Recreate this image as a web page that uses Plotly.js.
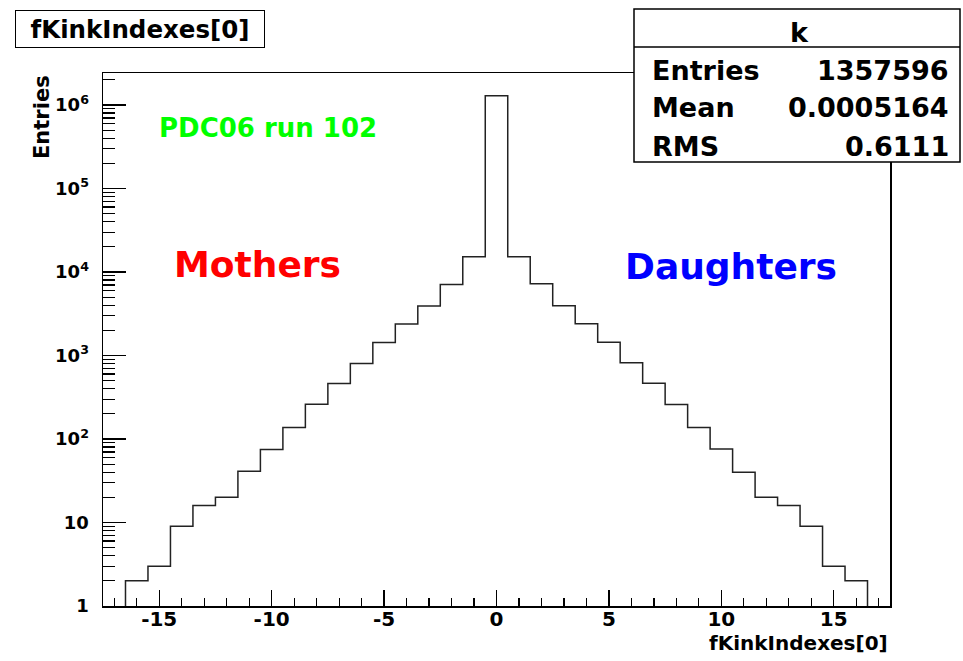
<!DOCTYPE html>
<html>
<head>
<meta charset="utf-8">
<script src="https://cdn.plot.ly/plotly-3.0.1.min.js"></script>
<style>
  html, body { margin: 0; padding: 0; background: #ffffff; }
  #plot { width: 963px; height: 661px; }
</style>
</head>
<body>
<div id="plot"></div>
<script>
// Bin centres of the fKinkIndexes[0] histogram (unit-wide bins)
var binCenters = [-16, -15, -14, -13, -12, -11, -10, -9, -8, -7, -6, -5, -4, -3, -2, -1,
                  0, 1, 2, 3, 4, 5, 6, 7, 8, 9, 10, 11, 12, 13, 14, 15, 16];
// Entries per bin
var binCounts = [2, 3, 9, 16, 20, 41, 75, 137, 261, 462, 803, 1433, 2375, 3902, 7100, 15200,
                 1293650, 15200, 7220, 3936, 2395, 1445, 816, 466, 259, 137, 76, 40, 20, 16, 9, 3, 2];

var xTickVals = [-15, -10, -5, 0, 5, 10, 15];
var xTickText = ['-15', '-10', '-5', '0', '5', '10', '15'];
var yTickVals = [1, 10, 100, 1000, 10000, 100000, 1000000];
var yTickText = ['1', '10', '10<sup>2</sup>', '10<sup>3</sup>', '10<sup>4</sup>', '10<sup>5</sup>', '10<sup>6</sup>'];

var statsTitle = 'k';
var statsNames = ['Entries', 'Mean', 'RMS'];
var statsValues = ['1357596', '0.0005164', '0.6111'];

// Step outline: left edges of every bin, closing edge, dropping to the axis floor at both ends
var binWidth = 1;
var floorValue = 1;
var stepX = [binCenters[0] - binWidth / 2];
var stepY = [floorValue];
binCenters.forEach(function (c, i) {
  stepX.push(c - binWidth / 2);
  stepY.push(binCounts[i]);
});
var lastEdge = binCenters[binCenters.length - 1] + binWidth / 2;
stepX.push(lastEdge);
stepY.push(binCounts[binCounts.length - 1]);
stepX.push(lastEdge);
stepY.push(floorValue);

var FONT = 'DejaVu Sans, Liberation Sans, Arial, sans-serif';

function bold(s) { return '<b>' + s + '</b>'; }

var trace = {
  type: 'scatter',
  mode: 'lines',
  x: stepX,
  y: stepY,
  line: { shape: 'hv', color: '#222222', width: 1.5 },
  hoverinfo: 'skip',
  showlegend: false
};

// page geometry, used to place the decorations in pixel terms
var M = { l: 103, r: 73, t: 73, b: 55 };
var W = 963, H = 661;
var pw = W - M.l - M.r, ph = H - M.t - M.b;
function px(x) { return (x - M.l) / pw; }
function py(y) { return (H - M.b - y) / ph; }

function label(x, y, xa, ya, text, size, color, extra) {
  var a = { xref: 'paper', yref: 'paper', x: px(x), y: py(y), xanchor: xa, yanchor: ya,
    text: bold(text), showarrow: false,
    font: { family: FONT, size: size, color: color || '#000' } };
  if (extra) { for (var k in extra) a[k] = extra[k]; }
  return a;
}

var annotations = [
  // histogram title box
  label(15, 10, 'left', 'top', 'fKinkIndexes[0]', 24.5, '#000',
        { bordercolor: '#000', borderwidth: 1, borderpad: 0, bgcolor: '#fff',
          width: 248, height: 36, align: 'center', valign: 'middle' }),
  // y axis title, top-aligned
  label(42, 73, 'center', 'top', 'Entries', 21, '#000', { textangle: -90 }),
  // x axis title, right-aligned
  label(890, 643, 'right', 'middle', 'fKinkIndexes[0]', 20),
  label(157, 128, 'left', 'middle', 'PDC06 run 102', 26, '#00ff00'),
  label(172, 264, 'left', 'middle', 'Mothers', 36, '#ff0000'),
  label(623, 266, 'left', 'middle', 'Daughters', 36, '#0000ff')
];

// statistics box contents
annotations.push(label(799, 32, 'center', 'middle', statsTitle, 27));
statsNames.forEach(function (n, i) {
  var yy = 70 + i * 38;
  annotations.push(label(650, yy, 'left', 'middle', n, 27));
  annotations.push(label(951, yy, 'right', 'middle', statsValues[i], 27));
});

var shapes = [
  { type: 'rect', xref: 'paper', yref: 'paper', x0: px(634), x1: px(960), y0: py(162), y1: py(9),
    line: { color: '#000', width: 1.5 }, fillcolor: '#fff', layer: 'above' },
  { type: 'line', xref: 'paper', yref: 'paper', x0: px(634), x1: px(960), y0: py(47), y1: py(47),
    line: { color: '#000', width: 1.5 }, layer: 'above' }
];

var layout = {
  width: W, height: H,
  margin: M,
  paper_bgcolor: '#fff',
  plot_bgcolor: '#fff',
  showlegend: false,
  font: { family: FONT, color: '#000' },
  xaxis: {
    range: [-17.5, 17.5],
    tickmode: 'array', tickvals: xTickVals, ticktext: xTickText.map(bold),
    ticks: 'inside', ticklen: 16, tickwidth: 1.2, tickcolor: '#000',
    minor: { tickmode: 'linear', tick0: 0, dtick: 1, ticks: 'inside', ticklen: 8, tickwidth: 1.2, tickcolor: '#000' },
    showgrid: false, zeroline: false,
    showline: true, linecolor: '#000', linewidth: 1.5, mirror: true,
    tickfont: { family: FONT, size: 20, color: '#000' },
    ticklabelstandoff: -6
  },
  yaxis: {
    type: 'log',
    range: [0, 6.383],
    tickmode: 'array', tickvals: yTickVals, ticktext: yTickText.map(bold),
    ticks: 'inside', ticklen: 23, tickwidth: 1.2, tickcolor: '#000',
    minor: { dtick: 'D1', ticks: 'inside', ticklen: 12, tickwidth: 1.2, tickcolor: '#000' },
    showgrid: false, zeroline: false,
    showline: true, linecolor: '#000', linewidth: 1.5, mirror: true,
    tickfont: { family: FONT, size: 18, color: '#000' },
    ticklabelstandoff: 9
  },
  annotations: annotations,
  shapes: shapes
};

Plotly.newPlot('plot', [trace], layout, { staticPlot: true, displayModeBar: false });
</script>
</body>
</html>
